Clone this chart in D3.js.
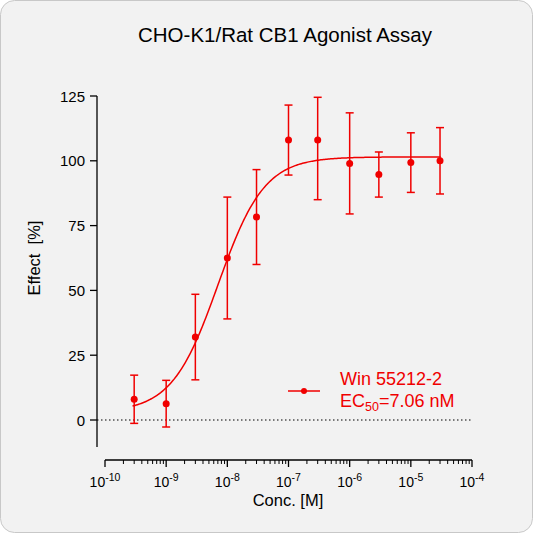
<!DOCTYPE html>
<html><head><meta charset="utf-8">
<script src="https://cdn.jsdelivr.net/npm/d3@7"></script>
<style>body{margin:0;background:#fff}svg{display:block;font-family:Arial,"Liberation Sans",sans-serif}</style>
</head><body>
<script>
const conc = [3e-10, 1e-9, 3e-9, 1e-8, 3e-8, 1e-7, 3e-7, 1e-6, 3e-6, 1e-5, 3e-5]
const effect = [8, 6.3, 32, 62.5, 78.3, 108, 108, 99, 94.7, 99.3, 100]
const errLo = [9.3, 9, 16.5, 23.5, 18.3, 13.5, 23, 19.5, 8.7, 11.5, 12.8]
const errHi = [9.3, 9, 16.5, 23.5, 18.3, 13.5, 16.5, 19.5, 8.7, 11.5, 12.8]
const yTicks = [0, 25, 50, 75, 100, 125]
const xExps = [-10, -9, -8, -7, -6, -5, -4]
const fit = {bottom: 3, top: 101.5, ec50: 7.06e-9, hill: 1.15}

const w = 533, h = 533
const red = "#f00000"
const svg = d3.select("body").append("svg").attr("width", w).attr("height", h)
svg.append("rect").attr("x", 0.5).attr("y", 0.5).attr("width", w - 1).attr("height", h - 1)
    .attr("rx", 14).attr("fill", "#f2f2f2").attr("stroke", "#c8c8c8")

const x = d3.scaleLog().domain([1e-10, 1e-4]).range([105, 472])
const y = d3.scaleLinear().domain([0, 125]).range([420, 96])

svg.append("text").attr("x", 285).attr("y", 42).attr("text-anchor", "middle")
    .attr("font-size", 20.5).text("CHO-K1/Rat CB1 Agonist Assay")

// y axis
svg.append("line").attr("x1", 97).attr("x2", 97).attr("y1", y(125)).attr("y2", 447).attr("stroke", "#000").attr("stroke-width", 1.3)
yTicks.forEach(t => {
    svg.append("line").attr("x1", 90).attr("x2", 97).attr("y1", y(t)).attr("y2", y(t)).attr("stroke", "#000").attr("stroke-width", 1.3)
    svg.append("text").attr("x", 85).attr("y", y(t) + 5.5).attr("text-anchor", "end").attr("font-size", 15).text(t)
})
svg.append("text").attr("transform", "translate(40,258) rotate(-90)").attr("text-anchor", "middle")
    .attr("font-size", 16.5).attr("xml:space", "preserve").text("Effect  [%]")

// x axis
const ax = 460
svg.append("line").attr("x1", x(1e-10)).attr("x2", x(1e-4)).attr("y1", ax).attr("y2", ax).attr("stroke", "#000").attr("stroke-width", 1.3)
xExps.forEach((e, i) => {
    const v = Math.pow(10, e)
    svg.append("line").attr("x1", x(v)).attr("x2", x(v)).attr("y1", ax).attr("y2", ax + 7).attr("stroke", "#000").attr("stroke-width", 1.3)
    const t = svg.append("text").attr("x", x(v)).attr("y", ax + 27).attr("text-anchor", "middle").attr("font-size", 14)
    t.append("tspan").text("10")
    t.append("tspan").attr("dy", -6).attr("font-size", 10.5).text(e)
    if (i < xExps.length - 1) {
        for (let m = 2; m < 10; m++) {
            const mv = m * v
            svg.append("line").attr("x1", x(mv)).attr("x2", x(mv)).attr("y1", ax).attr("y2", ax + 4).attr("stroke", "#000")
        }
    }
})
svg.append("text").attr("x", 288).attr("y", 506).attr("text-anchor", "middle").attr("font-size", 16.5).text("Conc. [M]")

// zero line
svg.append("line").attr("x1", 97).attr("x2", x(1e-4)).attr("y1", y(0)).attr("y2", y(0))
    .attr("stroke", "#000").attr("stroke-dasharray", "1.5,2.5")

// fit curve
const curveX = d3.range(-9.55, -4.5, 0.02).map(e => Math.pow(10, e))
const f = c => fit.bottom + (fit.top - fit.bottom) / (1 + Math.pow(fit.ec50 / c, fit.hill))
svg.append("path").datum(curveX)
    .attr("d", d3.line().x(c => x(c)).y(c => y(f(c))))
    .attr("fill", "none").attr("stroke", red).attr("stroke-width", 1.5)

// error bars + points
conc.forEach((c, i) => {
    const cx = x(c)
    const lo = effect[i] - errLo[i], hi = effect[i] + errHi[i]
    svg.append("line").attr("x1", cx).attr("x2", cx).attr("y1", y(lo)).attr("y2", y(hi)).attr("stroke", red).attr("stroke-width", 1.5)
    ;[lo, hi].forEach(v => {
        svg.append("line").attr("x1", cx - 4).attr("x2", cx + 4).attr("y1", y(v)).attr("y2", y(v)).attr("stroke", red).attr("stroke-width", 1.5)
    })
})
svg.selectAll("circle.dot").data(conc).enter().append("circle").attr("class", "dot")
    .attr("cx", d => x(d)).attr("cy", (d, i) => y(effect[i])).attr("r", 3.5).attr("fill", red)

// legend
svg.append("line").attr("x1", 288).attr("x2", 320).attr("y1", 391).attr("y2", 391).attr("stroke", red).attr("stroke-width", 1.5)
svg.append("circle").attr("cx", 304).attr("cy", 391).attr("r", 3).attr("fill", red)
svg.append("text").attr("x", 340).attr("y", 385).attr("font-size", 18).attr("fill", red).text("Win 55212-2")
const lt = svg.append("text").attr("x", 340).attr("y", 407).attr("font-size", 18).attr("fill", red)
lt.append("tspan").text("EC")
lt.append("tspan").attr("dy", 4).attr("font-size", 12.5).text("50")
lt.append("tspan").attr("dy", -4).text("=7.06 nM")
</script>
</body></html>
